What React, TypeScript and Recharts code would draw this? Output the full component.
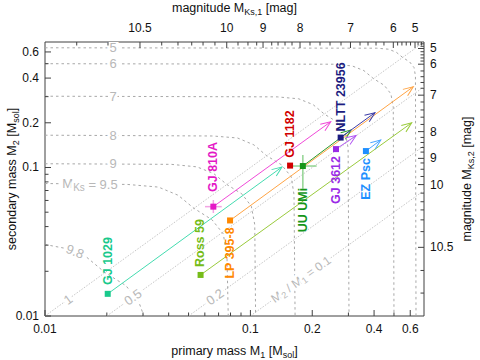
import React from 'react';
import { ComposedChart, Scatter, XAxis, YAxis } from 'recharts';

const FONT = '"Liberation Sans", Arial, Helvetica, sans-serif';
const AXIS_COLOR = '#404040';
const TEXT_COLOR = '#111111';
const CURVE_COLOR = '#a8a8a8';
const RATIO_COLOR = '#c6c6c6';
const LABEL_GRAY = '#b8b8b8';

// ---------- axis ticks ----------
const massTicks = [0.01, 0.02, 0.03, 0.04, 0.05, 0.06, 0.07, 0.08, 0.09, 0.1, 0.2, 0.3, 0.4, 0.5, 0.6];
const massTickLabels = ['0.01', '', '', '', '', '', '', '', '', '0.1', '0.2', '', '0.4', '', '0.6'];

const magTickMasses = [0.029, 0.0767, 0.1152, 0.1744, 0.307, 0.4962, 0.633];
const magTickLabels = ['10.5', '10', '9', '8', '7', '6', '5'];
const magMinorTickMasses = [
  0.01427, 0.02026, 0.037, 0.0444, 0.0518, 0.0588, 0.0672, 0.087, 0.0973, 0.1073, 0.127, 0.1363,
  0.1474, 0.1594, 0.195, 0.2182, 0.2441, 0.2761, 0.3417, 0.3737, 0.4088, 0.4468, 0.521, 0.5465,
  0.5735, 0.602, 0.655, 0.68,
];

// ---------- mass-ratio lines ----------
const ratioStartM1 = [0.01, 0.02, 0.05, 0.1];
const ratioStartM2 = [0.01, 0.01, 0.01, 0.01];
const ratioEndM1 = [0.7, 0.7, 0.7, 0.7];
const ratioEndM2 = [0.7, 0.35, 0.14, 0.07];
const ratioLabelText = ['1', '0.5', '0.2', 'ratio0.1'];
const ratioLabelM1 = [0.01294, 0.0268, 0.0672, 0.1764];
const ratioLabelM2 = [0.01294, 0.0134, 0.01344, 0.01764];

// ---------- iso-magnitude curves ----------
const curveM1 = [
  [0.01, 0.413, 0.471, 0.514, 0.551, 0.596, 0.626, 0.636, 0.64],
  [0.01, 0.255, 0.313, 0.357, 0.397, 0.449, 0.483, 0.496, 0.5],
  [0.01, 0.135, 0.172, 0.202, 0.229, 0.265, 0.29, 0.299, 0.302],
  [0.01, 0.0657, 0.0866, 0.104, 0.12, 0.142, 0.158, 0.163, 0.165],
  [0.01, 0.0412, 0.0549, 0.0663, 0.0768, 0.091, 0.101, 0.105, 0.106],
  [0.01, 0.0252, 0.0357, 0.0445, 0.0531, 0.065, 0.0738, 0.0769, 0.078],
  [0.01, 0.0123, 0.016, 0.0196, 0.0248, 0.0287, 0.0303],
];
const curveM2 = [
  [0.64, 0.636, 0.626, 0.596, 0.551, 0.514, 0.471, 0.413, 0.01],
  [0.5, 0.496, 0.483, 0.449, 0.397, 0.357, 0.313, 0.255, 0.01],
  [0.302, 0.299, 0.29, 0.265, 0.229, 0.202, 0.172, 0.135, 0.01],
  [0.165, 0.163, 0.158, 0.142, 0.12, 0.104, 0.0866, 0.0657, 0.01],
  [0.106, 0.105, 0.101, 0.091, 0.0768, 0.0663, 0.0549, 0.0412, 0.01],
  [0.078, 0.0769, 0.0738, 0.065, 0.0531, 0.0445, 0.0357, 0.0252, 0.01],
  [0.0303, 0.0287, 0.0248, 0.0196, 0.016, 0.0123, 0.01],
];
const curveLabelText = ['5', '6', '7', '8', '9', 'mks9.5', '9.8'];
const curveLabelM1 = [0.02143, 0.02143, 0.02143, 0.02143, 0.02143, 0.01656, 0.014];
const curveLabelM2 = [0.64, 0.5, 0.302, 0.165, 0.106, 0.078, 0.0272];
const curveLabelRot = [0, 0, 0, 0, 0, 0, 22];

// ---------- binaries ----------
const starNames = ['GJ 1029', 'Ross 59', 'LP 395-8', 'GJ 810A', 'GJ 1182', 'UU UMi', 'NLTT 23956', 'GJ 3612', 'EZ Psc'];
const starColors = ['#19c98c', '#76bc18', '#ff8800', '#e418c6', '#d10000', '#16961a', '#1c1c80', '#9a2ae6', '#1e8fff'];
const arrowColors = ['#44dcb0', '#9acb3c', '#ffa444', '#f04ad8', '', '#2a9a2a', '#3c3ca6', '#b358f2', '#4aa6ff'];
const starM1 = [0.0202, 0.0572, 0.0796, 0.066, 0.156, 0.18, 0.275, 0.261, 0.365];
const starM2 = [0.0141, 0.0189, 0.044, 0.0545, 0.103, 0.1023, 0.159, 0.133, 0.129];
const arrowEndM1 = [0.1425, 0.61, 0.621, 0.246, null, 0.309, 0.404, 0.327, 0.431];
const arrowEndM2 = [0.1008, 0.2, 0.35, 0.2034, null, 0.179, 0.234, 0.164, 0.153];
const labelM1 = [0.0202, 0.0566, 0.0796, 0.066, 0.156, 0.18, 0.276, 0.261, 0.3634];
const labelM2 = [0.02346, 0.031, 0.02657, 0.1008, 0.168, 0.0517, 0.2985, 0.0824, 0.0837];

// error bars (GJ 810A, UU UMi)
const errM1 = [0.066, 0.18];
const errM2 = [0.0545, 0.1023];
const errXLow = [0.0601, 0.158];
const errXHigh = [0.0725, 0.21];
const errYLow = [0.0494, 0.072];
const errYHigh = [0.0604, 0.1214];
const errColors = ['#f2a4e4', '#92d492'];

// ---------- derived tables ----------
const magTicks = [...magTickMasses, ...magMinorTickMasses].sort((a, b) => a - b);
const massLabel = (v: number) => {
  const i = massTicks.indexOf(v);
  return i >= 0 ? massTickLabels[i] : '';
};
const magLabel = (v: number) => {
  const i = magTickMasses.indexOf(v);
  return i >= 0 ? magTickLabels[i] : '';
};

const ratioLines = ratioStartM1.map((_, i) => [
  { m1: ratioStartM1[i], m2: ratioStartM2[i] },
  { m1: ratioEndM1[i], m2: ratioEndM2[i] },
]);
const ratioLabels = ratioLabelText.map((t, i) => ({ m1: ratioLabelM1[i], m2: ratioLabelM2[i], text: t, rot: -35.9 }));
const curves = curveM1.map((xs, i) => xs.map((x, j) => ({ m1: x, m2: curveM2[i][j] })));
const curveLabels = curveLabelText.map((t, i) => ({ m1: curveLabelM1[i], m2: curveLabelM2[i], text: t, rot: curveLabelRot[i] }));
const stars = starNames.map((n, i) => ({ m1: starM1[i], m2: starM2[i], name: n, color: starColors[i] }));
const starLabels = starNames.map((n, i) => ({ m1: labelM1[i], m2: labelM2[i], name: n, color: starColors[i] }));
const arrows = starNames
  .map((_, i) => ({ i, pts: arrowEndM1[i] == null ? null : [{ m1: starM1[i], m2: starM2[i] }, { m1: arrowEndM1[i] as number, m2: arrowEndM2[i] as number }] }))
  .filter((a) => a.pts);
const errSegs = errM1.flatMap((m1, i) => [
  { color: errColors[i], pts: [{ m1: errXLow[i], m2: errM2[i] }, { m1: errXHigh[i], m2: errM2[i] }] },
  { color: errColors[i], pts: [{ m1, m2: errYLow[i] }, { m1, m2: errYHigh[i] }] },
]);

// ---------- render helpers ----------
const Empty = () => <g />;

const Sub = ({ children, size = 9 }: { children: React.ReactNode; size?: number }) => (
  <tspan fontSize={size} dy={3}>{children}</tspan>
);

const BottomTick = (p: any) => {
  const { x, y, payload } = p;
  const label = massLabel(payload.value);
  const len = label ? 6 : 3.5;
  return (
    <g>
      <line x1={x} x2={x} y1={y} y2={y - len} stroke={AXIS_COLOR} />
      {label ? (
        <text x={x} y={y + 17} textAnchor="middle" fontSize={12} fontFamily={FONT} fill={TEXT_COLOR}>{label}</text>
      ) : null}
    </g>
  );
};
const LeftTick = (p: any) => {
  const { x, y, payload } = p;
  const label = massLabel(payload.value);
  const len = label ? 6 : 3.5;
  return (
    <g>
      <line x1={x} x2={x + len} y1={y} y2={y} stroke={AXIS_COLOR} />
      {label ? (
        <text x={x - 6} y={y} textAnchor="end" dominantBaseline="central" fontSize={12} fontFamily={FONT} fill={TEXT_COLOR}>{label}</text>
      ) : null}
    </g>
  );
};
const TopTick = (p: any) => {
  const { x, y, payload } = p;
  const label = magLabel(payload.value);
  const len = label ? 6 : 3.5;
  return (
    <g>
      <line x1={x} x2={x} y1={y} y2={y + len} stroke={AXIS_COLOR} />
      {label ? (
        <text x={x} y={y - 10} textAnchor="middle" fontSize={12} fontFamily={FONT} fill={TEXT_COLOR}>{label}</text>
      ) : null}
    </g>
  );
};
const RightTick = (p: any) => {
  const { x, y, payload } = p;
  const label = magLabel(payload.value);
  const len = label ? 6 : 3.5;
  return (
    <g>
      <line x1={x} x2={x - len} y1={y} y2={y} stroke={AXIS_COLOR} />
      {label ? (
        <text x={x + 6} y={y} textAnchor="start" dominantBaseline="central" fontSize={12} fontFamily={FONT} fill={TEXT_COLOR}>{label}</text>
      ) : null}
    </g>
  );
};

const titleStyle = { fontSize: 12.5, fontFamily: FONT, fill: TEXT_COLOR };

const BottomTitle = (p: any) => {
  const vb = p.viewBox;
  return (
    <text x={vb.x + vb.width / 2} y={355} textAnchor="middle" {...titleStyle}>
      primary mass M<Sub>1</Sub><tspan dy={-3}> [M</tspan><Sub>sol</Sub><tspan dy={-3}>]</tspan>
    </text>
  );
};
const TopTitle = (p: any) => {
  const vb = p.viewBox;
  return (
    <text x={vb.x + vb.width / 2} y={12} textAnchor="middle" {...titleStyle}>
      magnitude M<Sub>Ks,1</Sub><tspan dy={-3}> [mag]</tspan>
    </text>
  );
};
const LeftTitle = (p: any) => {
  const vb = p.viewBox;
  const cy = vb.y + vb.height / 2;
  return (
    <text x={16} y={cy} transform={`rotate(-90 16 ${cy})`} textAnchor="middle" {...titleStyle}>
      secondary mass M<Sub>2</Sub><tspan dy={-3}> [M</tspan><Sub>sol</Sub><tspan dy={-3}>]</tspan>
    </text>
  );
};
const RightTitle = (p: any) => {
  const vb = p.viewBox;
  const cy = vb.y + vb.height / 2;
  return (
    <text x={471} y={cy} transform={`rotate(-90 471 ${cy})`} textAnchor="middle" {...titleStyle}>
      magnitude M<Sub>Ks,2</Sub><tspan dy={-3}> [mag]</tspan>
    </text>
  );
};

const haloProps = { stroke: '#ffffff', strokeWidth: 6, strokeLinejoin: 'round' as const, paintOrder: 'stroke' };

const GrayLabel = (p: any) => {
  const { cx, cy, payload } = p;
  const t = payload.text;
  let content: React.ReactNode = t;
  let size = 13;
  if (t === 'mks9.5') {
    content = (
      <>
        M<Sub size={10}>Ks</Sub><tspan dy={-3}> = 9.5</tspan>
      </>
    );
  } else if (t === 'ratio0.1') {
    size = 12;
    content = (
      <>
        M<Sub size={9}>2</Sub><tspan dy={-3}> / M</tspan><Sub size={9}>1</Sub><tspan dy={-3}> = 0.1</tspan>
      </>
    );
  }
  return (
    <text
      x={cx}
      y={cy}
      transform={`rotate(${payload.rot} ${cx} ${cy})`}
      textAnchor="middle"
      dominantBaseline="central"
      fontSize={size}
      fontFamily={FONT}
      fill={LABEL_GRAY}
      {...(haloProps as any)}
    >
      {content}
    </text>
  );
};

const StarSquare = (p: any) => {
  const { cx, cy, payload } = p;
  return <rect x={cx - 3} y={cy - 3} width={6} height={6} fill={payload.color} />;
};

const StarLabel = (p: any) => {
  const { cx, cy, payload } = p;
  return (
    <text
      x={cx}
      y={cy}
      transform={`rotate(-90 ${cx} ${cy})`}
      textAnchor="middle"
      dominantBaseline="central"
      fontSize={12.5}
      fontWeight="bold"
      fontFamily={FONT}
      fill={payload.color}
    >
      {payload.name}
    </text>
  );
};

const common = { xAxisId: 'b', yAxisId: 'l', isAnimationActive: false, fill: 'none', shape: Empty } as const;

export default function App() {
  return (
    <div style={{ position: 'absolute', left: 0, top: 0, width: 480, height: 360, background: '#ffffff' }}>
      <svg width={0} height={0} style={{ position: 'absolute' }}>
        <defs>
          {arrowColors.map((c, i) => (
            <marker
              key={i}
              id={`ah${i}`}
              markerUnits="userSpaceOnUse"
              markerWidth={12}
              markerHeight={10}
              refX={10}
              refY={4}
              orient="auto"
              overflow="visible"
            >
              <path d="M0,0 L10,4 L0,8" fill="none" stroke={c || '#000'} strokeWidth={1} />
            </marker>
          ))}
        </defs>
      </svg>
      <ComposedChart width={480} height={360} margin={{ top: 0, right: 0, bottom: 0, left: 0 }}>
        <XAxis
          xAxisId="b"
          dataKey="m1"
          type="number"
          scale="log"
          domain={[0.01, 0.7]}
          allowDataOverflow
          ticks={massTicks}
          interval={0}
          tick={BottomTick}
          tickLine={false}
          tickSize={0}
          tickMargin={0}
          axisLine={{ stroke: AXIS_COLOR }}
          height={44}
          label={{ content: BottomTitle }}
        />
        <XAxis
          xAxisId="t"
          orientation="top"
          dataKey="m1"
          type="number"
          scale="log"
          domain={[0.01, 0.7]}
          allowDataOverflow
          ticks={magTicks}
          interval={0}
          tick={TopTick}
          tickLine={false}
          tickSize={0}
          tickMargin={0}
          axisLine={{ stroke: AXIS_COLOR }}
          height={42}
          label={{ content: TopTitle }}
        />
        <YAxis
          yAxisId="l"
          dataKey="m2"
          type="number"
          scale="log"
          domain={[0.01, 0.7]}
          allowDataOverflow
          ticks={massTicks}
          interval={0}
          tick={LeftTick}
          tickLine={false}
          tickSize={0}
          tickMargin={0}
          axisLine={{ stroke: AXIS_COLOR }}
          width={45}
          label={{ content: LeftTitle }}
        />
        <YAxis
          yAxisId="r"
          orientation="right"
          dataKey="m2"
          type="number"
          scale="log"
          domain={[0.01, 0.7]}
          allowDataOverflow
          ticks={magTicks}
          interval={0}
          tick={RightTick}
          tickLine={false}
          tickSize={0}
          tickMargin={0}
          axisLine={{ stroke: AXIS_COLOR }}
          width={56}
          label={{ content: RightTitle }}
        />

        <Scatter xAxisId="t" yAxisId="r" data={[{ m1: 0.1, m2: 0.1 }]} shape={Empty} isAnimationActive={false} fill="none" />

        {ratioLines.map((d, i) => (
          <Scatter key={`r${i}`} {...common} data={d} line={{ stroke: RATIO_COLOR, strokeWidth: 1, strokeDasharray: '1.5 1.5' }} />
        ))}
        {curves.map((d, i) => (
          <Scatter key={`c${i}`} {...common} data={d} line={{ stroke: CURVE_COLOR, strokeWidth: 1, strokeDasharray: '2.5 3' }} />
        ))}
        <Scatter xAxisId="b" yAxisId="l" data={ratioLabels} shape={GrayLabel} isAnimationActive={false} />
        <Scatter xAxisId="b" yAxisId="l" data={curveLabels} shape={GrayLabel} isAnimationActive={false} />

        {errSegs.map((s, i) => (
          <Scatter key={`e${i}`} {...common} data={s.pts} line={{ stroke: s.color, strokeWidth: 1.5 }} />
        ))}
        {arrows.map((a) => (
          <Scatter
            key={`a${a.i}`}
            {...common}
            data={a.pts as any}
            line={{ stroke: arrowColors[a.i], strokeWidth: 1, markerEnd: `url(#ah${a.i})` } as any}
          />
        ))}
        <Scatter xAxisId="b" yAxisId="l" data={stars} shape={StarSquare} isAnimationActive={false} />
        <Scatter xAxisId="b" yAxisId="l" data={starLabels} shape={StarLabel} isAnimationActive={false} />
      </ComposedChart>
    </div>
  );
}
